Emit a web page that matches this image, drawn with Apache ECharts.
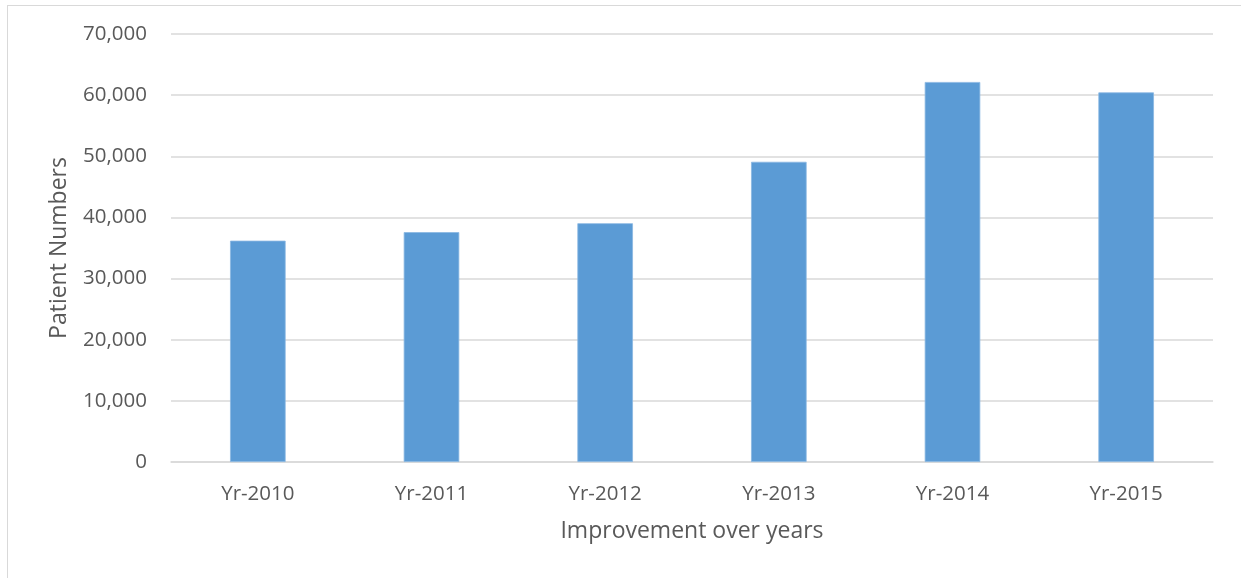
<!DOCTYPE html>
<html>
<head>
<meta charset="utf-8">
<script src="https://cdn.jsdelivr.net/npm/echarts@6/dist/echarts.min.js"></script>
<style>
  html, body { margin: 0; padding: 0; background: #fff; }
  #frame { position: absolute; left: 7px; top: 5px; width: 1240px; height: 580px; border: 1px solid #d9d9d9; box-sizing: border-box; }
  #chart { position: absolute; left: 0; top: 0; width: 1241px; height: 578px; }
</style>
</head>
<body>
<div id="frame"></div>
<div id="chart"></div>
<script>
// Yearly patient counts
const categories = ['Yr-2010', 'Yr-2011', 'Yr-2012', 'Yr-2013', 'Yr-2014', 'Yr-2015'];
const patients = [36200, 37600, 39050, 49100, 62150, 60450];
const yTicks = { min: 0, max: 70000, interval: 10000 };

const FONT = '"Open Sans", "Noto Sans", sans-serif';
const TEXT = '#595959';

const chart = echarts.init(document.getElementById('chart'), null, { renderer: 'canvas' });
chart.setOption({
  backgroundColor: 'transparent',
  animation: false,
  grid: { left: 171, right: 28, top: 34, bottom: 116, containLabel: false },
  xAxis: {
    type: 'category',
    data: categories,
    name: 'Improvement over years',
    nameLocation: 'middle',
    nameGap: 58,
    nameTextStyle: { fontFamily: FONT, fontSize: 23, color: TEXT },
    axisLine: { show: true, lineStyle: { color: '#d9d9d9', width: 1.5 } },
    axisTick: { show: false },
    axisLabel: { fontFamily: FONT, fontSize: 20.5, color: TEXT, margin: 22 }
  },
  yAxis: {
    type: 'value',
    min: yTicks.min,
    max: yTicks.max,
    interval: yTicks.interval,
    name: 'Patient Numbers',
    nameLocation: 'middle',
    nameGap: 100,
    nameRotate: 90,
    nameTextStyle: { fontFamily: FONT, fontSize: 23, color: TEXT },
    axisLine: { show: false },
    axisTick: { show: false },
    axisLabel: {
      fontFamily: FONT, fontSize: 20.5, color: TEXT, margin: 24,
      formatter: v => v.toLocaleString('en-US')
    },
    splitLine: { lineStyle: { color: '#d9d9d9', width: 1.5 } }
  },
  series: [{
    type: 'bar',
    data: patients,
    barCategoryGap: '68%',
    itemStyle: { color: '#5b9bd5', borderColor: '#8ab8e2', borderWidth: 0.8 }
  }]
});
</script>
</body>
</html>
